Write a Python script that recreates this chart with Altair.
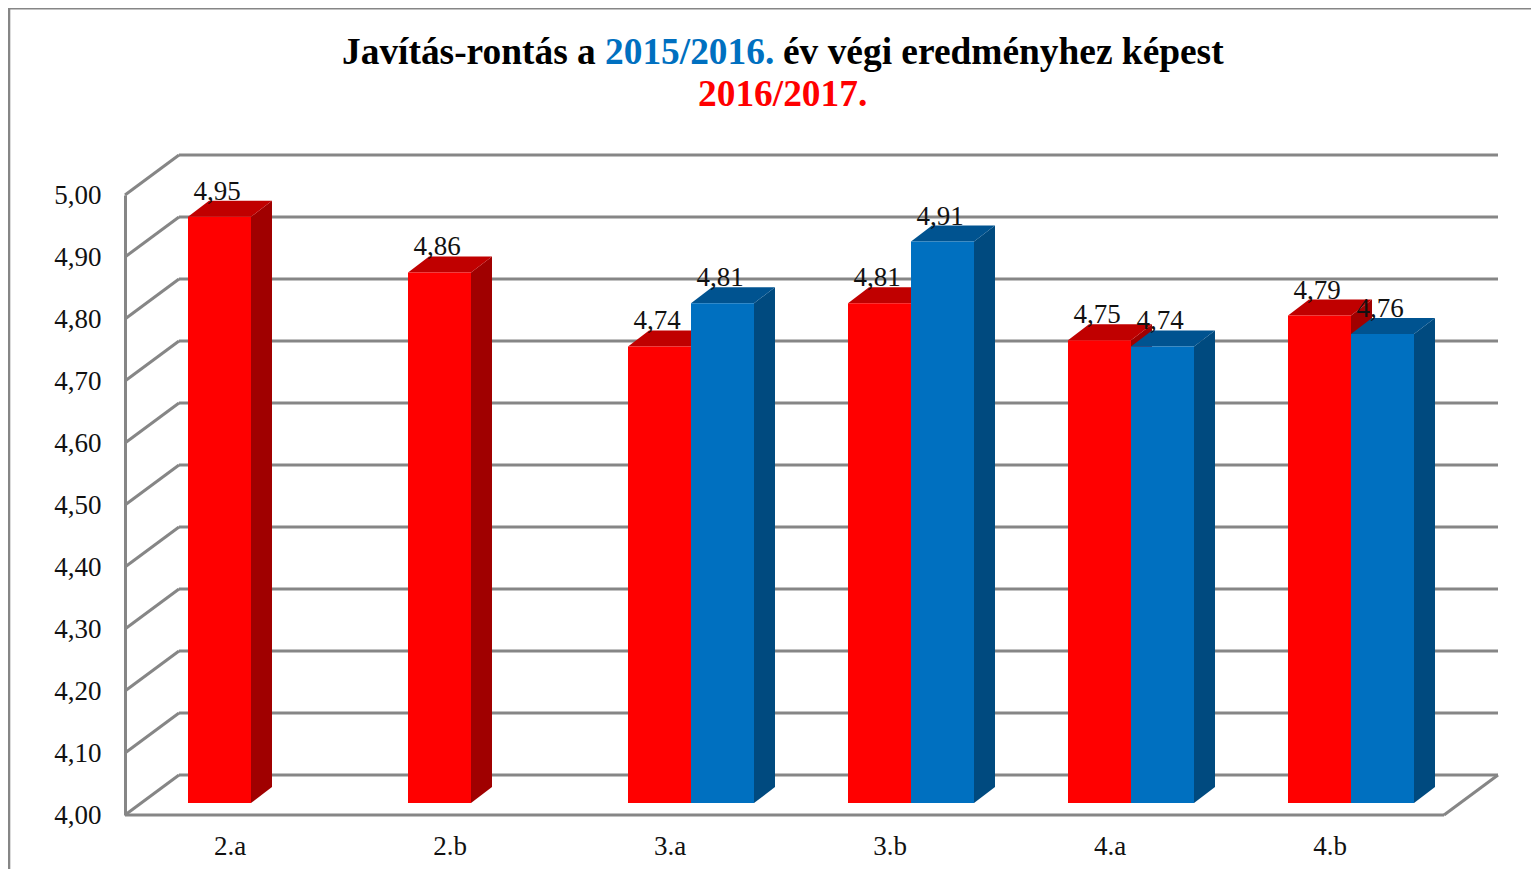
import altair as alt
import pandas as pd

# ---- values ----
categories = ["2.a", "2.b", "3.a", "3.b", "4.a", "4.b"]
series_2016_17 = [4.95, 4.86, 4.74, 4.81, 4.75, 4.79]
series_2015_16 = [None, None, 4.81, 4.91, 4.74, 4.76]
ticks = [4.0, 4.1, 4.2, 4.3, 4.4, 4.5, 4.6, 4.7, 4.8, 4.9, 5.0]

# ---- layout (page pixels, page margin 8) ----
W, H = 1523, 861
M = 8
FONT = "Liberation Serif"
GRID = "#868686"
RED = dict(front="#FF0000", side="#A00000", top="#C00000")
BLUE = dict(front="#0070C0", side="#004A7F", top="#005390")

x_scale = alt.Scale(domain=[0, W], range=[0, W])
wall_y = alt.Scale(domain=[4, 5], range=[815 - M, 195 - M])
bar_y = alt.Scale(domain=[4, 5], range=[803 - M, 186 - M])

WALL_LEFT, WALL_RIGHT = 125 - M, 1444 - M
WALL_DX, WALL_DY = 54, 40 / 620
BAR_W, BAR_DX, BAR_DY = 63, 21, 16 / 617
GROUP_0, GROUP_STEP = 251 - M, 220

# ---- walls ----
wall_rows = []
for t in ticks:
    wall_rows.append(dict(v=t, x=WALL_LEFT + WALL_DX, x2=WALL_RIGHT + WALL_DX, y=t + WALL_DY, y2=t + WALL_DY))
    wall_rows.append(dict(v=t, x=WALL_LEFT, x2=WALL_LEFT + WALL_DX, y=t, y2=t + WALL_DY))
wall_rows.append(dict(v=4.0, x=WALL_LEFT, x2=WALL_RIGHT, y=4.0, y2=4.0))
wall_rows.append(dict(v=4.0, x=WALL_RIGHT, x2=WALL_RIGHT + WALL_DX, y=4.0, y2=4.0 + WALL_DY))
walls_df = pd.DataFrame(wall_rows)

walls = alt.Chart(walls_df).mark_rule(color=GRID, strokeWidth=3).encode(
    x=alt.X("x:Q", scale=x_scale, axis=None),
    x2="x2:Q",
    y=alt.Y(
        "y:Q",
        scale=wall_y,
        axis=alt.Axis(
            values=ticks,
            title=None,
            grid=False,
            ticks=False,
            domain=True,
            domainColor=GRID,
            domainWidth=3,
            offset=-WALL_LEFT,
            labelPadding=24,
            labelFont=FONT,
            labelFontSize=27,
            labelColor="#111111",
            labelExpr="replace(format(datum.value, '.2f'), '.', ',')",
        ),
    ),
    y2="y2:Q",
)

# ---- bars ----
def bar_frames(values, slot):
    front, side, top = [], [], []
    for i, v in enumerate(values):
        if v is None:
            continue
        left = GROUP_0 + GROUP_STEP * i + (slot - 1) * BAR_W
        right = left + BAR_W
        key = f"{i}-{slot}"
        front.append(dict(key=key, x=left, x2=right, y=v, y2=4.0))
        side.append(dict(key=key, x=right, y=v, y2=4.0))
        side.append(dict(key=key, x=right + BAR_DX, y=v + BAR_DY, y2=4.0 + BAR_DY))
        top.append(dict(key=key, y=v, x=left, x2=right))
        top.append(dict(key=key, y=v + BAR_DY, x=left + BAR_DX, x2=right + BAR_DX))
    return pd.DataFrame(front), pd.DataFrame(side), pd.DataFrame(top)


def bar_layers(values, slot, colors):
    front, side, top = bar_frames(values, slot)
    side_mark = alt.Chart(side).mark_area(color=colors["side"], orient="vertical").encode(
        x=alt.X("x:Q", scale=x_scale, axis=None),
        y=alt.Y("y:Q", scale=bar_y, axis=None, stack=None),
        y2="y2:Q",
        detail="key:N",
    )
    top_mark = alt.Chart(top).mark_area(color=colors["top"], orient="horizontal").encode(
        y=alt.Y("y:Q", scale=bar_y, axis=None),
        x=alt.X("x:Q", scale=x_scale, axis=None, stack=None),
        x2="x2:Q",
        detail="key:N",
    )
    front_mark = alt.Chart(front).mark_rect(color=colors["front"]).encode(
        x=alt.X("x:Q", scale=x_scale, axis=None),
        x2="x2:Q",
        y=alt.Y("y:Q", scale=bar_y, axis=None),
        y2="y2:Q",
    )
    return [side_mark, top_mark, front_mark]


# ---- value labels ----
label_rows = []
for slot, values in ((0, series_2016_17), (1, series_2015_16)):
    for i, v in enumerate(values):
        if v is not None:
            cx = GROUP_0 + GROUP_STEP * i + (slot - 1) * BAR_W + BAR_W / 2 - 2.5
            label_rows.append(dict(x=cx, y=v, text=f"{v:.2f}".replace(".", ",")))
labels = alt.Chart(pd.DataFrame(label_rows)).mark_text(
    font=FONT, fontSize=27, color="#111111", align="center", baseline="alphabetic", dy=-17
).encode(
    x=alt.X("x:Q", scale=x_scale, axis=None),
    y=alt.Y("y:Q", scale=bar_y, axis=None),
    text="text:N",
)

# ---- category labels ----
cat_df = pd.DataFrame(
    {"cat": categories, "x": [GROUP_0 + GROUP_STEP * i - 21 for i in range(len(categories))]}
)
cats = alt.Chart(cat_df).mark_text(
    font=FONT, fontSize=27, color="#111111", align="center", baseline="alphabetic"
).encode(
    x=alt.X("x:Q", scale=x_scale, axis=None),
    y=alt.value(855 - M),
    text="cat:N",
)

# ---- frame ----
frame_top = alt.Chart(pd.DataFrame({"a": [0]})).mark_rule(color=GRID, strokeWidth=3).encode(
    x=alt.value(0), x2=alt.value(W), y=alt.value(0)
)
frame_left = alt.Chart(pd.DataFrame({"a": [0]})).mark_rule(color=GRID, strokeWidth=3).encode(
    x=alt.value(0.8), y=alt.value(0), y2=alt.value(H)
)

# ---- title ----
title_parts = [
    ("Javítás-rontás a", "#000000", 342, 64),
    ("2015/2016.", "#0070C0", 605, 64),
    ("év végi eredményhez képest", "#000000", 783, 64),
    ("2016/2017.", "#FF0000", 698, 106),
]
title_layers = [
    alt.Chart(pd.DataFrame({"t": [t]})).mark_text(
        font=FONT, fontSize=37.4, fontWeight="bold", color=c, align="left", baseline="alphabetic"
    ).encode(x=alt.value(px - M), y=alt.value(py - M), text="t:N")
    for t, c, px, py in title_parts
]

layers = [frame_top, frame_left, walls]
layers += bar_layers(series_2016_17, 0, RED)
layers += bar_layers(series_2015_16, 1, BLUE)
layers += [labels, cats] + title_layers

chart = alt.layer(*layers).resolve_scale(y="independent").properties(
    width=W,
    height=H,
    padding=0,
    background="white",
    autosize=alt.AutoSizeParams(type="none"),
).configure_view(stroke=None)

chart.save("out.html", embed_options={"renderer": "svg", "actions": False})
